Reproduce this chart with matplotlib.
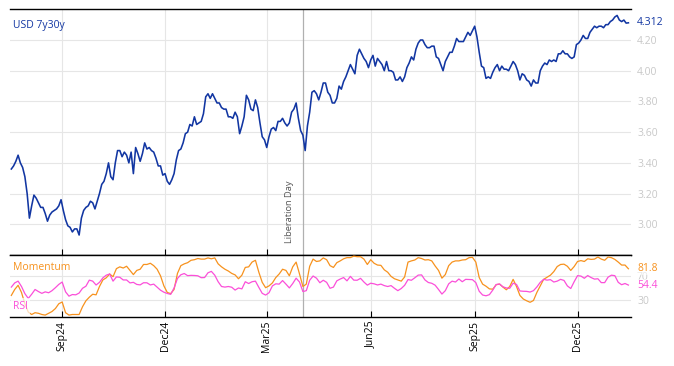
import matplotlib
matplotlib.use("Agg")
import matplotlib.pyplot as plt
import matplotlib.dates as mdates
import numpy as np
import pandas as pd

plt.rcParams["font.family"] = ["Open Sans", "DejaVu Sans"]

# USD 7y30y level, sampled every 2 calendar days from 18 Jul 2024
spread = [
    3.36, 3.38, 3.41, 3.45, 3.40, 3.37, 3.31, 3.20, 3.04, 3.12,
    3.19, 3.17, 3.14, 3.11, 3.11, 3.07, 3.02, 3.06, 3.08, 3.09,
    3.10, 3.12, 3.16, 3.09, 3.03, 2.99, 2.98, 2.95, 2.97, 2.97,
    2.93, 3.04, 3.09, 3.11, 3.12, 3.15, 3.14, 3.10, 3.15, 3.20,
    3.26, 3.28, 3.33, 3.40, 3.31, 3.29, 3.40, 3.48, 3.48, 3.44,
    3.47, 3.45, 3.40, 3.47, 3.33, 3.50, 3.46, 3.41, 3.46, 3.53,
    3.49, 3.50, 3.48, 3.47, 3.43, 3.38, 3.38, 3.32, 3.33, 3.28,
    3.26, 3.29, 3.33, 3.42, 3.48, 3.49, 3.53, 3.59, 3.60, 3.65,
    3.64, 3.70, 3.65, 3.66, 3.67, 3.72, 3.83, 3.85, 3.82, 3.85,
    3.82, 3.79, 3.79, 3.76, 3.75, 3.75, 3.70, 3.70, 3.69, 3.73,
    3.70, 3.59, 3.64, 3.70, 3.84, 3.81, 3.75, 3.74, 3.81, 3.76,
    3.66, 3.57, 3.55, 3.50, 3.57, 3.62, 3.63, 3.61, 3.67, 3.67,
    3.69, 3.66, 3.64, 3.66, 3.73, 3.75, 3.79, 3.69, 3.61, 3.58,
    3.48, 3.64, 3.73, 3.86, 3.87, 3.85, 3.81, 3.86, 3.92, 3.92,
    3.86, 3.84, 3.79, 3.79, 3.82, 3.90, 3.88, 3.93, 3.96, 4.00,
    4.04, 4.01, 3.98, 4.10, 4.14, 4.11, 4.08, 4.06, 4.02, 4.07,
    4.10, 4.03, 4.08, 4.06, 4.04, 4.00, 4.06, 4.00, 4.00, 3.99,
    3.94, 3.94, 3.96, 3.93, 3.96, 4.02, 4.05, 4.09, 4.07, 4.14,
    4.18, 4.20, 4.20, 4.17, 4.15, 4.15, 4.16, 4.16, 4.09, 4.08,
    4.04, 4.00, 4.06, 4.09, 4.12, 4.12, 4.16, 4.21, 4.19, 4.19,
    4.19, 4.22, 4.25, 4.23, 4.26, 4.29, 4.22, 4.12, 4.03, 4.02,
    3.95, 3.96, 3.95, 3.99, 4.02, 4.04, 4.00, 4.03, 4.01, 4.01,
    4.00, 4.03, 4.06, 4.04, 4.00, 3.94, 3.98, 3.97, 3.94, 3.93,
    3.90, 3.94, 3.92, 3.92, 4.00, 4.03, 4.05, 4.04, 4.07, 4.06,
    4.07, 4.06, 4.11, 4.11, 4.13, 4.11, 4.11, 4.09, 4.08, 4.09,
    4.17, 4.18, 4.20, 4.23, 4.21, 4.21, 4.25, 4.27, 4.29, 4.28,
    4.29, 4.29, 4.28, 4.30, 4.30, 4.32, 4.33, 4.35, 4.36, 4.33,
    4.32, 4.33, 4.31, 4.312,
]

# oscillators, sampled every 3 calendar days from 18 Jul 2024
momentum = [
    37, 47, 54, 42, 23, 9, 5, 8, 7, 5,
    4, 7, 10, 15, 23, 26, 8, 4, 5, 5,
    5, 18, 28, 34, 39, 38, 52, 63, 66.6, 73,
    68.5, 82, 85, 83, 86, 79, 72, 79, 81, 89,
    89, 91, 87, 81, 70, 53, 42, 40, 47, 74,
    87, 90, 92, 96, 97, 99, 98, 98, 100, 98.5,
    100, 90, 85, 81, 78, 74, 71.5, 65, 71, 84,
    85, 93, 96, 76, 59, 50, 53, 58, 67, 73,
    81, 79, 70, 85, 93, 73, 52, 56, 86, 98,
    94, 95, 100, 97, 87, 84, 92, 95, 98.5, 100.5,
    100.5, 103, 102, 102, 98, 89, 97, 91, 88, 87.5,
    80, 76, 69, 65, 63, 61, 68, 93, 95, 96.5,
    100.4, 99, 96.5, 97, 95, 86.5, 79, 66, 72, 87,
    93, 95, 95, 96.5, 97, 100.4, 101, 93, 67, 56,
    52.5, 48, 47.5, 55, 56, 51, 46.5, 52, 64, 52,
    37, 31, 28, 25.5, 28.5, 42, 53, 64, 67.5, 71,
    77, 85.5, 89, 89.5, 86, 79, 85.5, 94, 95.5, 94,
    98.5, 97.5, 98, 101.5, 98, 96, 101.5, 100.4, 97.5, 93,
    88, 88, 81.8,
]

rsi = [
    51, 58, 61, 52, 40, 32, 39, 47, 43.5, 40.5,
    43, 41.5, 45, 50, 55.5, 59.5, 43, 35.8, 38.5, 38,
    41, 49, 52.5, 62.7, 61, 54.5, 59, 66.5, 71, 73,
    61, 68, 67.5, 63, 63, 58, 59, 55.5, 54.7, 58.3,
    58.2, 54.6, 56, 51, 45.8, 42.4, 40.3, 38.8, 49.5, 65.5,
    71.7, 73.8, 70.2, 70.7, 70.5, 70, 66.8, 67, 75, 77.4,
    71, 60, 52, 51, 52, 50.8, 46, 49.5, 48, 60,
    57, 60, 61, 50.5, 40.5, 37.6, 41.5, 53, 56.5, 56,
    62, 56, 49.6, 57, 66, 59.5, 43.5, 45, 62.5, 69.6,
    66, 58.3, 62.5, 59, 49, 51, 61.5, 64.5, 67, 61.5,
    69, 62.7, 62.5, 65.7, 59.5, 54.3, 57.5, 56.5, 54.6, 56,
    53.5, 52, 53.5, 49, 45, 48.6, 54, 63.6, 62.5, 66.6,
    71.1, 71.5, 63, 58.7, 57.4, 54.2, 47, 39.3, 45, 56.5,
    61, 59.5, 64.6, 60, 64, 63.7, 63.5, 58.5, 44, 37.7,
    36.4, 38.3, 46, 55.3, 56.3, 51.5, 49.5, 49, 57.5, 55.5,
    44.5, 44, 43.8, 42.7, 45, 51.2, 59, 64, 62.7, 63.5,
    59.5, 61, 64, 62.2, 53, 48.6, 60, 70.2, 69.5, 65.8,
    70.4, 67, 64.4, 65, 58.5, 58.5, 67.7, 71, 70.2, 59,
    55, 57, 54.4,
]

START = "2024-07-18"
spread_dates = pd.date_range(START, periods=len(spread), freq="2D")
osc_dates = pd.date_range(START, periods=len(momentum), freq="3D")
liberation_day = pd.Timestamp("2025-04-02")

spread_ticks = [3.00, 3.20, 3.40, 3.60, 3.80, 4.00, 4.20]
osc_ticks = [30, 70]

BLUE = "#1236a2"
ORANGE = "#f7921e"
PINK = "#fb4fd9"
GRID = "#e6e6e6"
TICKGREY = "#c8c8c8"

fig = plt.figure(figsize=(6.74, 3.66), dpi=100)
ax = fig.add_axes([0.01484, 0.3033, 0.9210, 0.6713])
ax2 = fig.add_axes([0.01484, 0.1352, 0.9210, 0.1681], sharex=ax)

# --- top panel: spread level
ax.plot(spread_dates, spread, color=BLUE, lw=1.15, zorder=3)
ax.set_ylim(2.8, 4.4)
ax.set_yticks(spread_ticks)
ax.yaxis.set_major_formatter(plt.FormatStrFormatter("%.2f"))

# --- bottom panel: oscillators
ax2.plot(osc_dates, momentum, color=ORANGE, lw=0.9, zorder=3)
ax2.plot(osc_dates, rsi, color=PINK, lw=0.9, zorder=3)
ax2.set_ylim(1.6, 104.9)
ax2.set_yticks(osc_ticks)

ax.set_xlim(pd.Timestamp("2024-07-16 20:00"), pd.Timestamp("2026-01-17 02:00"))
ax.xaxis.set_major_locator(mdates.MonthLocator(bymonth=[3, 6, 9, 12]))
ax.xaxis.set_major_formatter(mdates.DateFormatter("%b%y"))

for a in (ax, ax2):
    a.grid(True, color=GRID, lw=0.8)
    a.set_axisbelow(True)
    for side in ("left", "right"):
        a.spines[side].set_visible(False)
    for side in ("top", "bottom"):
        a.spines[side].set_color("black")
        a.spines[side].set_linewidth(1.0)
    a.yaxis.tick_right()
    a.tick_params(axis="y", length=0, pad=4.5, labelcolor=TICKGREY, labelsize=7.5)
    a.tick_params(axis="x", direction="in", length=4, width=0.8, color="black")
    a.axvline(liberation_day, color="#b0b0b0", lw=0.9, zorder=2)

ax.tick_params(axis="x", labelbottom=False)
ax2.tick_params(axis="x", labelsize=7.5, labelrotation=90, pad=3)

# labels
lib_x = mdates.date2num(liberation_day)
ax.text(0.005, 0.935, "USD 7y30y", transform=ax.transAxes, color=BLUE,
        fontsize=7.5, ha="left", va="center")
ax.annotate("Liberation Day", xy=(lib_x, 0), xycoords=ax.get_xaxis_transform(),
            xytext=(-9.6, 8.5), textcoords="offset points", rotation=90,
            ha="center", va="bottom", fontsize=6.7, color="#555555")
ax.annotate(f"{spread[-1]:.3f}", xy=(1, spread[-1]), xycoords=ax.get_yaxis_transform(),
            xytext=(4.5, 0), textcoords="offset points", va="center",
            color=BLUE, fontsize=7.5)

ax2.text(0.005, 0.79, "Momentum", transform=ax2.transAxes, color=ORANGE,
         fontsize=7.5, ha="left", va="center", zorder=5)
ax2.text(0.005, 0.17, "RSI", transform=ax2.transAxes, color=PINK,
         fontsize=7.5, ha="left", va="center", zorder=5,
         bbox=dict(facecolor="white", edgecolor="none", alpha=0.7, pad=1.5))
# last-value labels sit over the grey 70 tick label, as in the source chart
ax2.annotate(f"{momentum[-1]:.1f}", xy=(1, momentum[-1]), xycoords=ax2.get_yaxis_transform(),
             xytext=(4.5, 0), textcoords="offset points", va="center",
             color=ORANGE, fontsize=7.5,
             bbox=dict(facecolor="white", edgecolor="none", alpha=0.6, pad=0.5))
ax2.annotate(f"{rsi[-1]:.1f}", xy=(1, rsi[-1]), xycoords=ax2.get_yaxis_transform(),
             xytext=(4.5, 0), textcoords="offset points", va="center",
             color=PINK, fontsize=7.5,
             bbox=dict(facecolor="white", edgecolor="none", alpha=0.6, pad=0.5))

fig.savefig("out.png", dpi=100)
